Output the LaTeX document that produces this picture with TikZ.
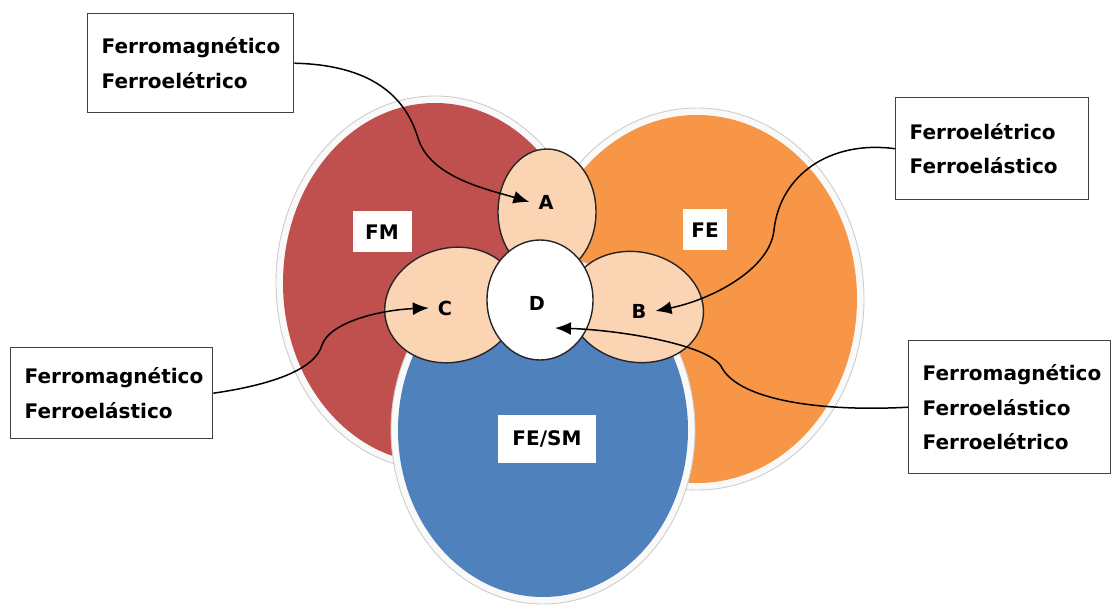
\documentclass[tikz,border=0pt]{standalone}
\usepackage{fontspec}
\setmainfont{DejaVu Sans}
\usetikzlibrary{arrows.meta,math}

\definecolor{fmred}{HTML}{C0504D}
\definecolor{feorange}{HTML}{F79646}
\definecolor{feblue}{HTML}{4F81BD}
\definecolor{petalpeach}{HTML}{FBD4B4}

\tikzset{
  halo/.style={fill=gray!5, draw=gray!40, line width=0.5pt},
  petal/.style={fill=petalpeach, draw=black!85, line width=0.8pt},
  tag/.style={fill=white, inner xsep=1.6mm, inner ysep=0pt, minimum height=8.2mm,
    font=\bfseries\fontsize{11.4}{13}\selectfont},
  letter/.style={inner sep=5pt, font=\bfseries\fontsize{11}{13}\selectfont},
  infobox/.style={draw=black!75, line width=0.8pt, fill=white, anchor=north west,
    align=left, inner xsep=2.8mm, font=\bfseries\fontsize{11.4}{19.8}\selectfont},
  link/.style={-{Latex[length=3.2mm,width=2.6mm]}, line width=0.85pt}
}

\begin{document}
\begin{tikzpicture}[x=0.2mm, y=-0.2mm]
  \tikzmath{
    real \gap;
    \gap = 7;
  }
  \useasboundingbox (0,0) rectangle (1112,610);

  \foreach \cx/\cy/\rx/\ry/\col in {435/283/152/180/fmred, 697/299/160/184/feorange, 543/430/145/167/feblue} {
    \draw[halo] (\cx,\cy) ellipse [x radius=\rx+\gap, y radius=\ry+\gap];
    \fill[\col] (\cx,\cy) ellipse [x radius=\rx, y radius=\ry];
  }

  \draw[petal] (452,305) ellipse [x radius=68, y radius=57, rotate=15];
  \draw[petal] (636,307) ellipse [x radius=68, y radius=55, rotate=-12];
  \draw[petal] (547,212) ellipse [x radius=49, y radius=63];
  \draw[petal, fill=white] (540,300) ellipse [x radius=53, y radius=60];

  \node[tag, minimum width=11.8mm] (fm) at (382,232) {FM};
  \node[tag] (fe) at (705,230) {FE};
  \node[tag, minimum width=19.6mm, minimum height=9.6mm] (fesm) at (547,439) {FE/SM};

  \node[letter] (A) at (546,202) {A};
  \node[letter] (B) at (639,311) {B};
  \node[letter] (C) at (445,308) {C};
  \node[letter] (D) at (537,303) {D};
  \coordinate (dtip) at (555,328);

  \node[infobox, text width=35.6mm, minimum height=19.8mm] (boxa) at (87,13) {Ferromagnético\\Ferroelétrico};
  \node[infobox, text width=33mm, minimum height=20.4mm] (boxb) at (895,97) {Ferroelétrico\\Ferroelástico};
  \node[infobox, text width=34.8mm, minimum height=18.2mm] (boxc) at (10,347) {Ferromagnético\\Ferroelástico};
  \node[infobox, text width=34.8mm, minimum height=26.6mm] (boxd) at (908,340) {Ferromagnético\\Ferroelástico\\Ferroelétrico};

  \draw[link] (boxa.east) .. controls (370,65) and (405,95) .. (418,138) .. controls (430,178) and (490,190) .. (A.west);
  \draw[link] (boxb.west) .. controls (830,140) and (780,175) .. (774,230) .. controls (770,270) and (710,300) .. (B.east);
  \draw[link] (boxc.east) .. controls (270,385) and (315,370) .. (322,345) .. controls (330,322) and (380,310) .. (C.west);
  \draw[link] (boxd.west) .. controls (820,412) and (740,400) .. (722,368) .. controls (712,345) and (620,330) .. (dtip);
\end{tikzpicture}
\end{document}
